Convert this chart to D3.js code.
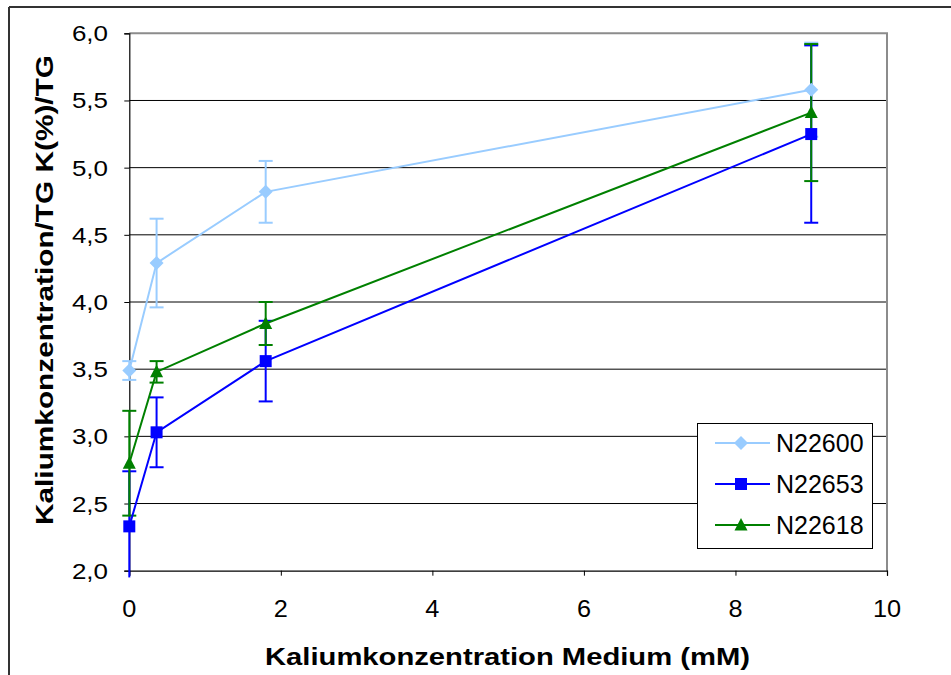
<!DOCTYPE html>
<html>
<head>
<meta charset="utf-8">
<script src="https://cdn.jsdelivr.net/npm/d3@7"></script>
<style>
  html, body { margin: 0; padding: 0; background: #fff; }
  svg { display: block; font-family: "Liberation Sans", Arial, sans-serif; }
</style>
</head>
<body>
<svg id="chart" width="951" height="675"></svg>
<script>
// ---- data ----
const xValues = [0, 0.36, 1.8, 9];
const seriesNames = ["N22600", "N22653", "N22618"];
const valuesN22600 = [3.49, 4.29, 4.82, 5.58];
const errorsN22600 = [0.07, 0.33, 0.23, 0.35];
const valuesN22653 = [2.33, 3.03, 3.56, 5.25];
const errorsN22653 = [0.41, 0.26, 0.30, 0.66];
const valuesN22618 = [2.80, 3.48, 3.84, 5.41];
const errorsN22618 = [0.39, 0.08, 0.16, 0.51];
const xTicks = [0, 2, 4, 6, 8, 10];
const yTicks = [2.0, 2.5, 3.0, 3.5, 4.0, 4.5, 5.0, 5.5, 6.0];
const xTitle = "Kaliumkonzentration Medium (mM)";
const yTitle = "Kaliumkonzentration/TG K(%)/TG";

const series = [
  { name: seriesNames[0], values: valuesN22600, errors: errorsN22600, color: "#99CCFF", marker: "diamond" },
  { name: seriesNames[1], values: valuesN22653, errors: errorsN22653, color: "#0000FF", marker: "square" },
  { name: seriesNames[2], values: valuesN22618, errors: errorsN22618, color: "#008000", marker: "triangle" }
];

// ---- layout ----
const svg = d3.select("#chart");
const L = 129.3, R = 887, T = 33.3, B = 570.7;
const x = d3.scaleLinear().domain([0, 10]).range([L, R]);
const y = d3.scaleLinear().domain([2, 6]).range([B, T]);

// outer frame
svg.append("line").attr("x1", 9).attr("x2", 951).attr("y1", 7).attr("y2", 7)
  .attr("stroke", "#333").attr("stroke-width", 2);
svg.append("line").attr("x1", 9).attr("x2", 9).attr("y1", 7).attr("y2", 675)
  .attr("stroke", "#333").attr("stroke-width", 2);

// gridlines
svg.append("g").selectAll("line").data(yTicks.filter(d => d > 2 && d < 6)).join("line")
  .attr("x1", L).attr("x2", R).attr("y1", d => y(d)).attr("y2", d => y(d))
  .attr("stroke", "#000").attr("stroke-width", 1);

// plot border top & right (gray)
svg.append("path").attr("d", `M${L},${T}H${R}V${B}`).attr("fill", "none")
  .attr("stroke", "#8c8c8c").attr("stroke-width", 2);

// axes
const yAxis = d3.axisLeft(y).tickValues(yTicks).tickSize(5).tickFormat(() => "");
const gy = svg.append("g").attr("transform", `translate(${L},0)`).call(yAxis);
gy.select(".domain").attr("stroke", "#000").attr("stroke-width", 1.2);
gy.selectAll(".tick line").attr("stroke", "#000");

const xAxis = d3.axisBottom(x).tickValues(xTicks).tickSize(5).tickFormat(() => "");
const gx = svg.append("g").attr("transform", `translate(0,${B})`).call(xAxis);
gx.select(".domain").attr("stroke", "#000").attr("stroke-width", 1.2);
gx.selectAll(".tick line").attr("stroke", "#000");

const fmt = d => d.toFixed(1).replace(".", ",");

// y tick labels
svg.append("g").selectAll("text").data(yTicks).join("text")
  .attr("transform", d => `translate(108,${y(d) + 8}) scale(1.18,1)`)
  .attr("text-anchor", "end").attr("font-size", 22).attr("fill", "#000")
  .text(fmt);

// x tick labels
svg.append("g").selectAll("text").data(xTicks).join("text")
  .attr("transform", d => `translate(${x(d)},${B + 46}) scale(1.1,1)`)
  .attr("text-anchor", "middle").attr("font-size", 23).attr("fill", "#000")
  .text(d => d);

// axis titles
svg.append("text").attr("x", 507.5).attr("y", 665)
  .attr("text-anchor", "middle").attr("font-size", 23).attr("font-weight", "bold")
  .attr("textLength", 485).attr("lengthAdjust", "spacingAndGlyphs")
  .text(xTitle);
svg.append("text").attr("transform", "translate(53,290) rotate(-90)")
  .attr("text-anchor", "middle").attr("font-size", 23).attr("font-weight", "bold")
  .attr("textLength", 470).attr("lengthAdjust", "spacingAndGlyphs")
  .text(yTitle);

// markers
function markerPath(type) {
  if (type === "diamond") return "M0,-7L7,0L0,7L-7,0Z";
  if (type === "square") return "M-6,-6H6V6H-6Z";
  return "M0,-7L6.5,5.5H-6.5Z";
}

// error bars
const yMin = y.domain()[0];
const eg = svg.append("g");
series.forEach(s => {
  s.values.forEach((v, i) => {
    const hi = v + s.errors[i], lo = v - s.errors[i];
    const cx = x(xValues[i]);
    const loClamped = lo < yMin ? yMin - 0.05 : lo;
    eg.append("line").attr("x1", cx).attr("x2", cx)
      .attr("y1", y(hi)).attr("y2", y(loClamped))
      .attr("stroke", s.color).attr("stroke-width", 2);
    eg.append("line").attr("x1", cx - 7).attr("x2", cx + 7)
      .attr("y1", y(hi)).attr("y2", y(hi))
      .attr("stroke", s.color).attr("stroke-width", 2);
    if (lo >= yMin) {
      eg.append("line").attr("x1", cx - 7).attr("x2", cx + 7)
        .attr("y1", y(lo)).attr("y2", y(lo))
        .attr("stroke", s.color).attr("stroke-width", 2);
    }
  });
});

// lines
const line = d3.line().x((d, i) => x(xValues[i])).y(d => y(d));
series.forEach(s => {
  svg.append("path").datum(s.values).attr("d", line)
    .attr("fill", "none").attr("stroke", s.color).attr("stroke-width", 2);
});

// markers
series.forEach(s => {
  svg.append("g").selectAll("path").data(s.values).join("path")
    .attr("transform", (d, i) => `translate(${x(xValues[i])},${y(d)})`)
    .attr("d", markerPath(s.marker)).attr("fill", s.color);
});

// legend
const lg = svg.append("g");
lg.append("rect").attr("x", 697.5).attr("y", 423.5).attr("width", 175).attr("height", 125)
  .attr("fill", "#fff").attr("stroke", "#000").attr("stroke-width", 1);
series.forEach((s, i) => {
  const ly = 443 + i * 41;
  lg.append("line").attr("x1", 715).attr("x2", 770).attr("y1", ly).attr("y2", ly)
    .attr("stroke", s.color).attr("stroke-width", 2);
  lg.append("path").attr("transform", `translate(741,${ly})`)
    .attr("d", markerPath(s.marker)).attr("fill", s.color);
  lg.append("text").attr("x", 776).attr("y", ly + 9).attr("font-size", 25).attr("fill", "#000")
    .text(s.name);
});
</script>
</body>
</html>
